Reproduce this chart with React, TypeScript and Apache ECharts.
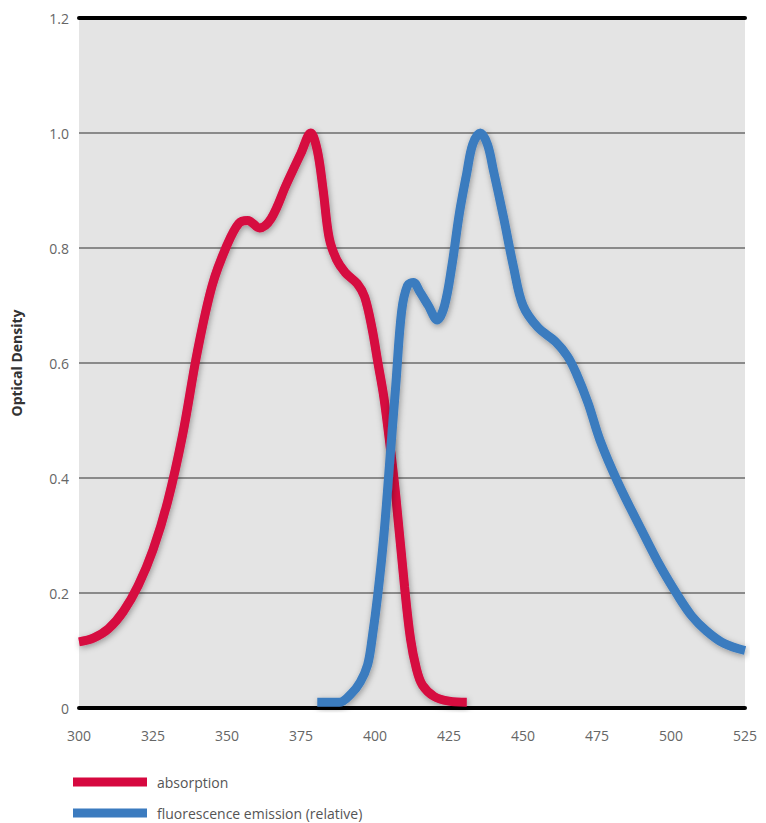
import React, { useEffect, useRef } from "react";
import * as echarts from "echarts";

const absorption: [number, number][] = [
  [300, 0.115], [305, 0.122], [310, 0.138], [315, 0.168], [320, 0.213], [325, 0.275],
  [330, 0.36], [335, 0.475], [340, 0.62], [345, 0.735], [350, 0.805], [354, 0.843],
  [357, 0.848], [361, 0.835], [365, 0.852], [370, 0.91], [375, 0.965], [378.3, 1.0],
  [380.5, 0.97], [382.5, 0.9], [384.5, 0.818], [387, 0.78], [390, 0.757], [394, 0.738],
  [396.5, 0.715], [399, 0.66], [401, 0.6], [403, 0.54], [405, 0.46], [407, 0.37],
  [410, 0.21], [412, 0.12], [414, 0.068], [416, 0.04], [420, 0.02], [425, 0.012], [431, 0.01],
];

const fluorescence: [number, number][] = [
  [380.5, 0.01], [388, 0.01], [392, 0.025], [395, 0.045], [397.5, 0.075], [399, 0.12],
  [401, 0.2], [403, 0.3], [405, 0.43], [407, 0.56], [409, 0.69], [411, 0.735],
  [413, 0.74], [415, 0.725], [418, 0.7], [421, 0.675], [423.5, 0.7], [426, 0.77],
  [428.5, 0.86], [431, 0.93], [433, 0.98], [435.6, 1.0], [438, 0.98], [440, 0.935],
  [443.4, 0.854], [446.8, 0.767], [450, 0.7], [455, 0.662], [461, 0.637],
  [465, 0.612], [468, 0.582], [472, 0.53], [476, 0.466], [482, 0.393], [490, 0.31],
  [496, 0.25], [502, 0.198], [507, 0.16], [512, 0.134], [518, 0.112], [525, 0.1],
];

const seriesNames = ["absorption", "fluorescence emission (relative)"];
const yTickLabels = ["0", "0.2", "0.4", "0.6", "0.8", "1.0", "1.2"];

const RED = "#d6083f";
const BLUE = "#3b7bbf";

export default function App() {
  const ref = useRef<HTMLDivElement>(null);
  useEffect(() => {
    if (!ref.current) return;
    const chart = echarts.init(ref.current, undefined, { renderer: "svg" });
    const font = "'Open Sans', 'Noto Sans', sans-serif";
    const lineStyle = (c: string) => ({
      color: c,
      width: 9,
      shadowBlur: 6,
      shadowColor: "rgba(0,0,0,0.35)",
      shadowOffsetX: 1,
      shadowOffsetY: 2,
    });
    const legendCommon = {
      left: 68,
      itemWidth: 74,
      itemHeight: 9,
      icon: "rect",
      textStyle: { color: "#555", fontSize: 14, fontFamily: font, padding: [0, 0, 0, 5] },
    };
    chart.setOption({
      animation: false,
      backgroundColor: "#ffffff",
      grid: {
        left: 79,
        right: 21,
        top: 18,
        bottom: 115,
        show: true,
        backgroundColor: "#e4e4e4",
        borderWidth: 0,
      },
      legend: [
        { ...legendCommon, top: 770, data: [seriesNames[0]] },
        { ...legendCommon, top: 801, data: [seriesNames[1]] },
      ],
      xAxis: [
        {
          type: "value",
          min: 300,
          max: 525,
          interval: 25,
          axisLine: { show: true, onZero: false, lineStyle: { color: "#000", width: 4 } },
          axisTick: { show: false },
          splitLine: { show: false },
          axisLabel: { color: "#666", fontSize: 14, fontFamily: font, margin: 20 },
        },
        {
          type: "value",
          position: "top",
          min: 300,
          max: 525,
          axisLine: { show: true, onZero: false, lineStyle: { color: "#000", width: 4 } },
          axisTick: { show: false },
          axisLabel: { show: false },
          splitLine: { show: false },
        },
      ],
      yAxis: {
        type: "value",
        min: 0,
        max: 1.2,
        interval: 0.2,
        name: "Optical Density",
        nameLocation: "middle",
        nameGap: 56,
        nameTextStyle: { color: "#333", fontSize: 14, fontWeight: "bold", fontFamily: font },
        axisLine: { show: false },
        axisTick: { show: false },
        axisLabel: {
          color: "#666",
          fontSize: 14,
          fontFamily: font,
          margin: 10,
          formatter: (v: number) => yTickLabels[Math.round(v / 0.2)] ?? "",
        },
        splitLine: { show: true, lineStyle: { color: "#8a8a8a", width: 2 } },
      },
      series: [
        {
          name: seriesNames[0],
          type: "line",
          data: absorption,
          smooth: 0.35,
          showSymbol: false,
          color: RED,
          lineStyle: lineStyle(RED),
          z: 3,
        },
        {
          name: seriesNames[1],
          type: "line",
          data: fluorescence,
          smooth: 0.35,
          showSymbol: false,
          color: BLUE,
          lineStyle: lineStyle(BLUE),
          z: 4,
        },
      ],
    });
    return () => chart.dispose();
  }, []);
  return <div ref={ref} style={{ width: 766, height: 823, position: "absolute", left: 0, top: 0 }} />;
}
